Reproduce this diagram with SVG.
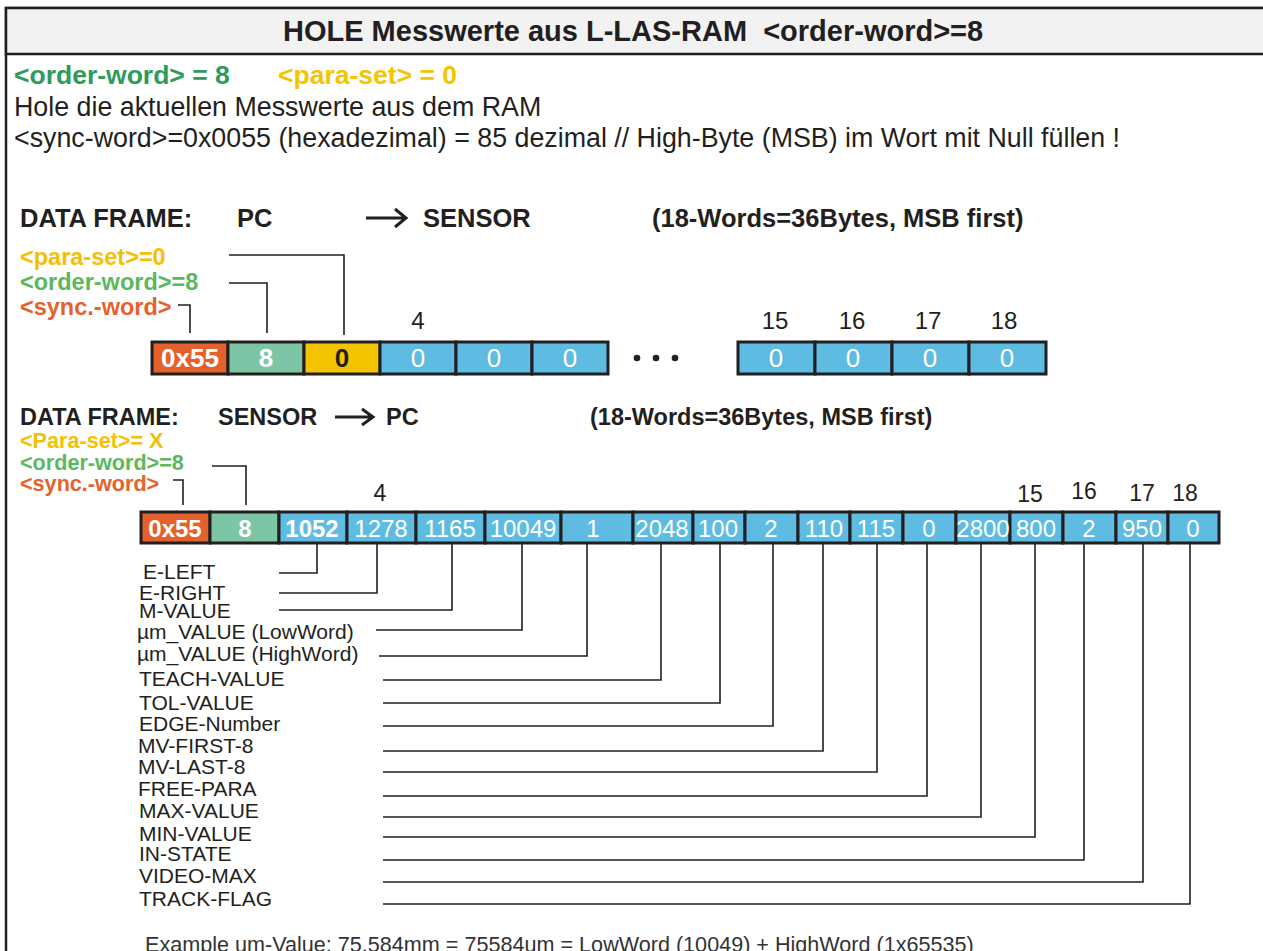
<svg xmlns="http://www.w3.org/2000/svg" width="1263" height="951" viewBox="0 0 1263 951">
<defs>
<style>
text{font-family:"Liberation Sans",Arial,sans-serif;fill:#231f20}
.b{font-weight:bold}
.t{font-size:29px;font-weight:bold;white-space:pre}
.body{font-size:26.8px}
.h1{font-size:25.5px;font-weight:bold}
.h2{font-size:23.5px;font-weight:bold}
.g1{fill:#2e9b5b}
.y1{fill:#f5c400}
.lg{fill:#5cb85c}
.ly{fill:#f5c000}
.lo{fill:#e5622d}
.box{stroke:#231f20;stroke-width:3}
.or{fill:#e3612b}
.gr{fill:#7cc6a6}
.ye{fill:#f5c400}
.bl{fill:#5ebce2}
.v1{font-size:26px;text-anchor:middle;fill:#fff}
.v2{font-size:24px;text-anchor:middle;fill:#fff}
.idx{font-size:24px;text-anchor:middle}
.lab{font-size:21px}
.ln{fill:none;stroke:#231f20;stroke-width:1.6}
.ar{fill:none;stroke:#231f20;stroke-width:3}
</style>
</defs>
<g id="frame">
<rect x="6" y="8" width="1262" height="960" fill="#fff" stroke="#231f20" stroke-width="2.5"/>
<rect x="6" y="8" width="1262" height="46" fill="#f2f2f2" stroke="#231f20" stroke-width="2.5"/>
<text class="t" x="283" y="41" xml:space="preserve">HOLE Messwerte aus L-LAS-RAM  &lt;order-word&gt;=8</text>
</g>
<g id="intro">
<text class="b g1" x="14" y="84" style="font-size:26.5px">&lt;order-word&gt; = 8</text>
<text class="b y1" x="278" y="84" style="font-size:26.5px">&lt;para-set&gt; = 0</text>
<text class="body" x="14" y="116">Hole die aktuellen Messwerte aus dem RAM</text>
<text class="body" x="14" y="147">&lt;sync-word&gt;=0x0055 (hexadezimal) = 85 dezimal // High-Byte (MSB) im Wort mit Null füllen !</text>
</g>
<g id="frame1-header">
<text class="h1" x="20" y="227">DATA FRAME:</text>
<text class="h1" x="237" y="227">PC</text>
<path class="ar" d="M366 218 H405 M395 209 L406 218 L395 227"/>
<text class="h1" x="423" y="227">SENSOR</text>
<text class="h1" x="652" y="227">(18-Words=36Bytes, MSB first)</text>
</g>
<g id="frame1-labels">
<text class="b ly" x="20" y="265" style="font-size:23.5px">&lt;para-set&gt;=0</text>
<text class="b lg" x="20" y="290" style="font-size:23.5px">&lt;order-word&gt;=8</text>
<text class="b lo" x="20" y="315" style="font-size:23.5px">&lt;sync.-word&gt;</text>
</g>
<g id="frame1-words">
<rect class="box or" x="152" y="342" width="76" height="32"/>
<rect class="box gr" x="228" y="342" width="76" height="32"/>
<rect class="box ye" x="304" y="342" width="76" height="32"/>
<rect class="box bl" x="380" y="342" width="76" height="32"/>
<rect class="box bl" x="456" y="342" width="76" height="32"/>
<rect class="box bl" x="532" y="342" width="76" height="32"/>
<rect class="box bl" x="738" y="342" width="77" height="32"/>
<rect class="box bl" x="815" y="342" width="77" height="32"/>
<rect class="box bl" x="892" y="342" width="77" height="32"/>
<rect class="box bl" x="969" y="342" width="77" height="32"/>
<text class="v1 b" x="190" y="367">0x55</text>
<text class="v1 b" x="266" y="367">8</text>
<text class="v1 b" x="342" y="367" style="fill:#231f20">0</text>
<text class="v1" x="418" y="367">0</text>
<text class="v1" x="494" y="367">0</text>
<text class="v1" x="570" y="367">0</text>
<text class="v1" x="776" y="367">0</text>
<text class="v1" x="853" y="367">0</text>
<text class="v1" x="930" y="367">0</text>
<text class="v1" x="1007" y="367">0</text>
<circle cx="637" cy="358" r="3.3" fill="#231f20"/>
<circle cx="656" cy="358" r="3.3" fill="#231f20"/>
<circle cx="675" cy="358" r="3.3" fill="#231f20"/>
<text class="idx" x="418" y="329">4</text>
<text class="idx" x="775" y="329">15</text>
<text class="idx" x="852" y="329">16</text>
<text class="idx" x="928" y="329">17</text>
<text class="idx" x="1004" y="329">18</text>
</g>
<g id="frame2-header">
<text class="h2" x="20" y="425">DATA FRAME:</text>
<text class="h2" x="218" y="425">SENSOR</text>
<path class="ar" d="M335 417 H371 M362 409 L373 417 L362 425"/>
<text class="h2" x="386" y="425">PC</text>
<text class="h2" x="590" y="425">(18-Words=36Bytes, MSB first)</text>
</g>
<g id="frame2-labels">
<text class="b ly" x="20" y="448" style="font-size:21.6px">&lt;Para-set&gt;= X</text>
<text class="b lg" x="20" y="470" style="font-size:21.6px">&lt;order-word&gt;=8</text>
<text class="b lo" x="20" y="491" style="font-size:21.6px">&lt;sync.-word&gt;</text>
</g>
<g id="frame2-words">
<rect class="box or" x="141" y="512" width="69" height="31"/>
<rect class="box gr" x="210" y="512" width="69" height="31"/>
<rect class="box bl" x="279" y="512" width="68" height="31"/>
<rect class="box bl" x="347" y="512" width="69" height="31"/>
<rect class="box bl" x="416" y="512" width="69" height="31"/>
<rect class="box bl" x="485" y="512" width="76" height="31"/>
<rect class="box bl" x="561" y="512" width="72" height="31"/>
<rect class="box bl" x="633" y="512" width="60" height="31"/>
<rect class="box bl" x="693" y="512" width="52" height="31"/>
<rect class="box bl" x="745" y="512" width="53" height="31"/>
<rect class="box bl" x="798" y="512" width="52" height="31"/>
<rect class="box bl" x="850" y="512" width="53" height="31"/>
<rect class="box bl" x="903" y="512" width="53" height="31"/>
<rect class="box bl" x="956" y="512" width="54" height="31"/>
<rect class="box bl" x="1010" y="512" width="53" height="31"/>
<rect class="box bl" x="1063" y="512" width="53" height="31"/>
<rect class="box bl" x="1116" y="512" width="52" height="31"/>
<rect class="box bl" x="1168" y="512" width="51" height="31"/>
<text class="v2 b" x="175" y="537">0x55</text>
<text class="v2 b" x="245" y="537">8</text>
<text class="v2 b" x="312" y="537">1052</text>
<text class="v2" x="381" y="537">1278</text>
<text class="v2" x="450" y="537">1165</text>
<text class="v2" x="523" y="537">10049</text>
<text class="v2" x="593" y="537">1</text>
<text class="v2" x="662" y="537">2048</text>
<text class="v2" x="718" y="537">100</text>
<text class="v2" x="771" y="537">2</text>
<text class="v2" x="824" y="537">110</text>
<text class="v2" x="876" y="537">115</text>
<text class="v2" x="929" y="537">0</text>
<text class="v2" x="983" y="537">2800</text>
<text class="v2" x="1036" y="537">800</text>
<text class="v2" x="1089" y="537">2</text>
<text class="v2" x="1142" y="537">950</text>
<text class="v2" x="1193" y="537">0</text>
<text class="idx" x="380" y="501" style="font-size:23px">4</text>
<text class="idx" x="1030" y="502" style="font-size:23px">15</text>
<text class="idx" x="1084" y="499" style="font-size:23px">16</text>
<text class="idx" x="1142" y="501" style="font-size:23px">17</text>
<text class="idx" x="1185" y="501" style="font-size:23px">18</text>
</g>
<g id="field-labels">
<text class="lab" x="143" y="579">E-LEFT</text>
<text class="lab" x="139" y="600">E-RIGHT</text>
<text class="lab" x="139" y="618">M-VALUE</text>
<text class="lab" x="137" y="639">µm_VALUE (LowWord)</text>
<text class="lab" x="137" y="661">µm_VALUE (HighWord)</text>
<text class="lab" x="139" y="686">TEACH-VALUE</text>
<text class="lab" x="139" y="710">TOL-VALUE</text>
<text class="lab" x="139" y="731">EDGE-Number</text>
<text class="lab" x="138" y="753">MV-FIRST-8</text>
<text class="lab" x="138" y="774">MV-LAST-8</text>
<text class="lab" x="138" y="796">FREE-PARA</text>
<text class="lab" x="139" y="818">MAX-VALUE</text>
<text class="lab" x="139" y="841">MIN-VALUE</text>
<text class="lab" x="139" y="861">IN-STATE</text>
<text class="lab" x="139" y="883">VIDEO-MAX</text>
<text class="lab" x="139" y="906">TRACK-FLAG</text>
<text x="145" y="952" style="font-size:21.6px;fill:#333">Example um-Value: 75.584mm = 75584um = LowWord (10049) + HighWord (1x65535)</text>
</g>
<g id="connectors">
<path class="ln" d="M229 255 H344 V335"/>
<path class="ln" d="M229 283 H267 V333"/>
<path class="ln" d="M178 305 H190 V333"/>
<path class="ln" d="M212 466 H246 V505"/>
<path class="ln" d="M173 480 H183 V505"/>
<path class="ln" d="M279 573 H317 V543"/>
<path class="ln" d="M279 593 H377 V543"/>
<path class="ln" d="M279 610 H452 V543"/>
<path class="ln" d="M376 630 H522 V543"/>
<path class="ln" d="M379 656 H587 V543"/>
<path class="ln" d="M383 680 H661 V543"/>
<path class="ln" d="M383 703 H720 V543"/>
<path class="ln" d="M383 726 H773 V543"/>
<path class="ln" d="M383 751 H823 V543"/>
<path class="ln" d="M383 772 H877 V543"/>
<path class="ln" d="M383 796 H927 V543"/>
<path class="ln" d="M383 817 H981 V543"/>
<path class="ln" d="M383 837 H1035 V543"/>
<path class="ln" d="M383 860 H1084 V543"/>
<path class="ln" d="M383 882 H1143 V543"/>
<path class="ln" d="M383 904 H1190 V543"/>
</g>
</svg>
